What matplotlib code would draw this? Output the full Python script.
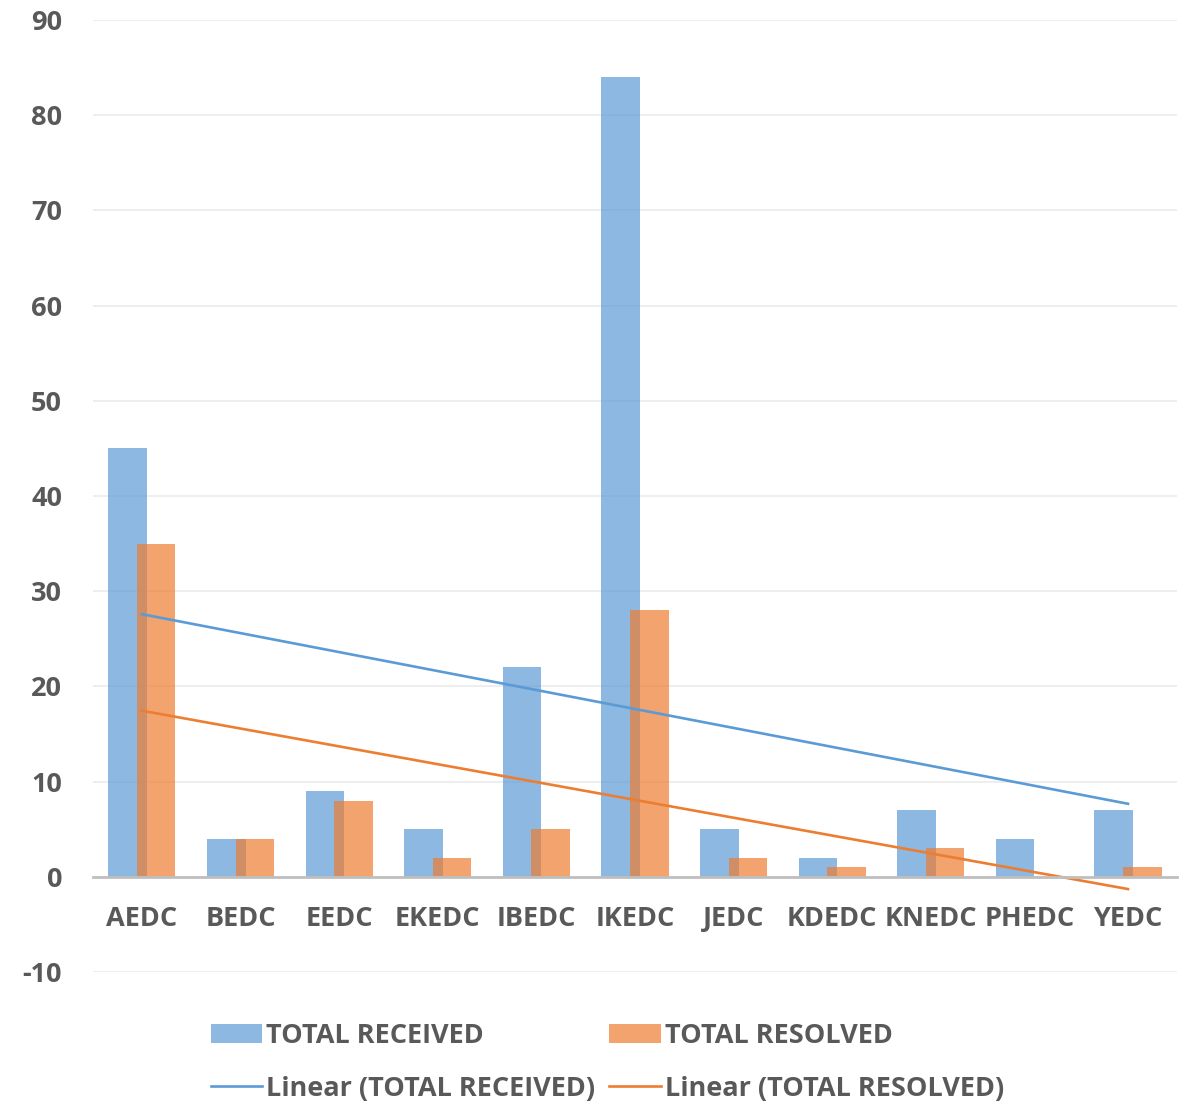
import numpy as np
import matplotlib
matplotlib.use("Agg")
import matplotlib.pyplot as plt

companies = ["AEDC", "BEDC", "EEDC", "EKEDC", "IBEDC", "IKEDC",
             "JEDC", "KDEDC", "KNEDC", "PHEDC", "YEDC"]
total_received = [45, 4, 9, 5, 22, 84, 5, 2, 7, 4, 7]
total_resolved = [35, 4, 8, 2, 5, 28, 2, 1, 3, 0, 1]

plt.rcParams['font.family'] = ['Open Sans', 'DejaVu Sans']
plt.rcParams['font.weight'] = 'bold'
plt.rcParams['axes.unicode_minus'] = False
text_color = '#595959'
blue = '#5B9BD5'
orange = '#ED7D31'

fig = plt.figure(figsize=(11.88, 11.01), dpi=100)
ax = fig.add_axes([0.078, 0.117, 0.913, 0.865])

x = np.arange(len(companies))
width = 0.39
offset = 0.145
ax.bar(x - offset, total_received, width, color=blue, alpha=0.7,
       label='TOTAL RECEIVED', zorder=2)
ax.bar(x + offset, total_resolved, width, color=orange, alpha=0.7,
       label='TOTAL RESOLVED', zorder=3)

# linear trend lines
for vals, col, name in [(total_received, blue, 'Linear (TOTAL RECEIVED)'),
                        (total_resolved, orange, 'Linear (TOTAL RESOLVED)')]:
    b1, b0 = np.polyfit(x + 1, vals, 1)
    ax.plot(x, b0 + b1 * (x + 1), color=col, lw=1.9, label=name, zorder=4)

ax.set_xlim(-0.5, len(companies) - 0.5)
ax.set_ylim(-10, 90)
ax.set_yticks(np.arange(-10, 91, 10))
ax.grid(axis='y', color='#EBEBEB', lw=1.2, zorder=0)
ax.set_axisbelow(True)

for s in ['top', 'right', 'left']:
    ax.spines[s].set_visible(False)
ax.spines['bottom'].set_position(('data', 0))
ax.spines['bottom'].set_color('#BFBFBF')
ax.spines['bottom'].set_linewidth(2)
ax.spines['bottom'].set_zorder(5)

ax.set_xticks(x)
ax.set_xticklabels(companies, fontweight='bold')
for lbl in ax.get_yticklabels():
    lbl.set_fontweight('bold')
ax.tick_params(axis='x', length=0, pad=21, labelsize=19.5, labelcolor=text_color)
ax.tick_params(axis='y', length=0, pad=22, labelsize=19.5, labelcolor=text_color)

handles, labels = ax.get_legend_handles_labels()
# legend fills column by column: bars in the first row, trend lines in the second
order = [2, 0, 3, 1]
leg = fig.legend([handles[i] for i in order], [labels[i] for i in order],
                 ncol=2, loc='lower left', bbox_to_anchor=(0.157, -0.023),
                 frameon=False, prop={'size': 19.5, 'weight': 'bold'},
                 handlelength=1.9, handleheight=0.7,
                 handletextpad=0.15, columnspacing=0.5, labelspacing=1.0)
for t in leg.get_texts():
    t.set_color(text_color)

fig.savefig("out.png", dpi=100)
